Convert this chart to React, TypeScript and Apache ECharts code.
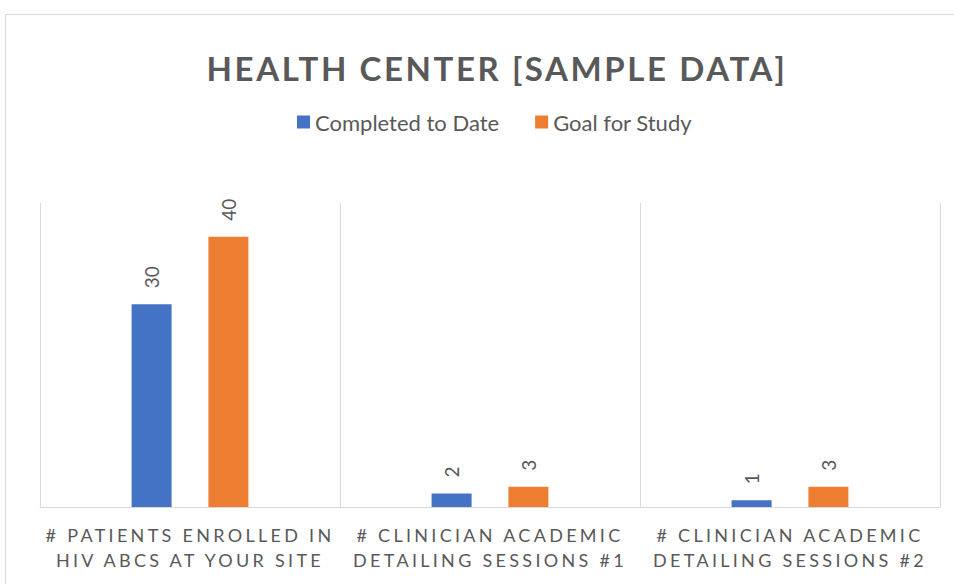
import React, { useEffect, useRef } from "react";
import * as echarts from "echarts";

const titleText = "HEALTH CENTER [SAMPLE DATA]";
const categories = [
  "# PATIENTS ENROLLED IN\nHIV ABCS AT YOUR SITE",
  "# CLINICIAN ACADEMIC\nDETAILING SESSIONS #1",
  "# CLINICIAN ACADEMIC\nDETAILING SESSIONS #2",
];
const seriesNames = ["Completed to Date", "Goal for Study"];
const completed = [30, 2, 1];
const goal = [40, 3, 3];
const yMax = 45;

const FONT = "Lato, 'Noto Sans', sans-serif";
const GRAY = "#595959";

export default function App() {
  const ref = useRef<HTMLDivElement>(null);
  useEffect(() => {
    if (!ref.current) return;
    const chart = echarts.init(ref.current, null, { renderer: "svg" });
    const label = {
      show: true,
      position: "top",
      rotate: 90,
      align: "left",
      verticalAlign: "middle",
      distance: 16,
      color: GRAY,
      fontSize: 19,
      fontFamily: FONT,
    };
    chart.setOption({
      animation: false,
      textStyle: { fontFamily: FONT },
      title: {
        text: titleText,
        left: 492,
        textAlign: "center",
        top: 46,
        textStyle: { color: GRAY, fontSize: 33, fontWeight: "bold", fontFamily: FONT },
      },
      legend: {
        top: 106,
        left: 292,
        itemWidth: 13,
        itemHeight: 13,
        itemGap: 36,
        icon: "rect",
        textStyle: { color: GRAY, fontSize: 22, fontFamily: FONT },
        data: seriesNames,
      },
      graphic: [
        {
          type: "rect",
          shape: { x: 5.5, y: 14.5, width: 1000, height: 1000 },
          style: { fill: "none", stroke: "#d9d9d9", lineWidth: 1 },
          silent: true,
        },
      ],
      grid: { left: 40, right: 14, top: 203, bottom: 77 },
      xAxis: {
        type: "category",
        data: categories,
        axisLine: { show: true, lineStyle: { color: "#d9d9d9", width: 1 } },
        axisTick: { show: false },
        splitLine: { show: true, lineStyle: { color: "#d9d9d9", width: 1 } },
        axisLabel: {
          color: GRAY,
          fontSize: 18,
          fontFamily: FONT,
          lineHeight: 25,
          margin: 15,
          interval: 0,
        },
      },
      yAxis: {
        type: "value",
        min: 0,
        max: yMax,
        show: false,
        splitLine: { show: false },
      },
      series: [
        {
          name: seriesNames[0],
          type: "bar",
          data: completed,
          barWidth: 40,
          barGap: "92%",
          itemStyle: { color: "#4472C4" },
          label,
        },
        {
          name: seriesNames[1],
          type: "bar",
          data: goal,
          barWidth: 40,
          itemStyle: { color: "#ED7D31" },
          label,
        },
      ],
    });
    const axisLines = categories.flatMap((c) => c.split("\n"));
    const apply = () => {
      const svg = ref.current?.querySelector("svg");
      if (!svg) return;
      svg.querySelectorAll("text").forEach((t) => {
        const s = t.textContent || "";
        if (axisLines.includes(s)) t.setAttribute("letter-spacing", "3.3");
        else if (s === titleText) t.setAttribute("letter-spacing", "2.6");
      });
    };
    apply();
    chart.on("finished", apply);
    return () => chart.dispose();
  }, []);
  return (
    <div
      ref={ref}
      style={{ position: "fixed", left: 0, top: 0, width: 954, height: 584, background: "#fff" }}
    />
  );
}
